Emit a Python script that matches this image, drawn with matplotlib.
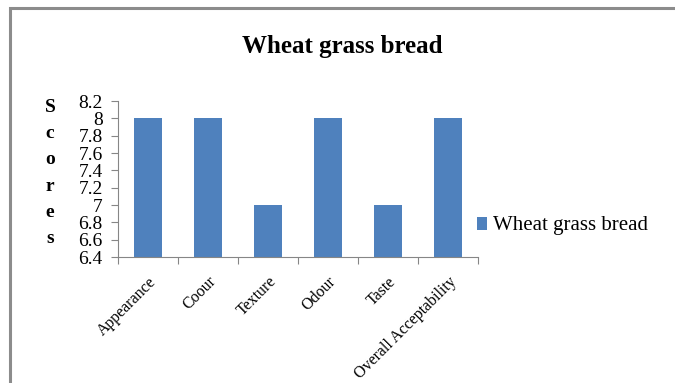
import numpy as np
import matplotlib.pyplot as plt
from matplotlib.patches import Rectangle

categories = ["Appearance", "Coour", "Texture", "Odour", "Taste", "Overall Acceptability"]
scores = [8, 8, 7, 8, 7, 8]
y_ticks = [6.4, 6.6, 6.8, 7, 7.2, 7.4, 7.6, 7.8, 8, 8.2]
y_tick_labels = ["6.4", "6.6", "6.8", "7", "7.2", "7.4", "7.6", "7.8", "8", "8.2"]
series_name = "Wheat grass bread"

plt.rcParams['font.family'] = ['Liberation Serif', 'DejaVu Serif']

fig = plt.figure(figsize=(6.75, 3.83), dpi=100)

# gray outer frame (top and left visible)
fig.patches.append(Rectangle((10 / 675, -0.1), 1.2, (383 - 7.5) / 383 + 0.1,
                             transform=fig.transFigure, fill=False,
                             edgecolor="#8c8c8c", linewidth=2.2))

ax = fig.add_axes([118 / 675, 1 - 257 / 383, 360 / 675, 156 / 383])
x = np.arange(len(categories))
bars = ax.bar(x, scores, width=0.48, color="#4F81BD", label=series_name, zorder=2)

ax.set_ylim(6.4, 8.2)
ax.set_xlim(-0.5, len(categories) - 0.5)
ax.set_yticks(y_ticks)
ax.set_yticklabels(y_tick_labels, fontsize=14)
ax.tick_params(axis="y", length=5, width=0.8, color="#868686", pad=6)

ax.set_xticks(x)
ax.set_xticklabels(categories, rotation=45, ha="right", rotation_mode="anchor", fontsize=11.5)
ax.tick_params(axis="x", which="major", length=0, pad=12)
ax.set_xticks(np.arange(-0.5, len(categories)), minor=True)
ax.tick_params(axis="x", which="minor", length=5, width=0.8, color="#868686")

for s in ["top", "right"]:
    ax.spines[s].set_visible(False)
for s in ["left", "bottom"]:
    ax.spines[s].set_color("#868686")
    ax.spines[s].set_linewidth(0.8)

fig.text(342 / 675, 1 - 46 / 383, "Wheat grass bread", ha="center", va="center",
         fontsize=18, fontweight="bold")

fig.text(50 / 675, 1 - 173 / 383, "S\nc\no\nr\ne\ns", ha="center", va="center",
         fontsize=14, fontweight="bold", linespacing=1.72)

fig.legend(handles=[bars], labels=[series_name], loc="center left",
           bbox_to_anchor=(458 / 675, 1 - 226 / 383), frameon=False,
           fontsize=15, handlelength=0.5, handleheight=0.6, handletextpad=0.3)

fig.savefig("out.png", dpi=100)
